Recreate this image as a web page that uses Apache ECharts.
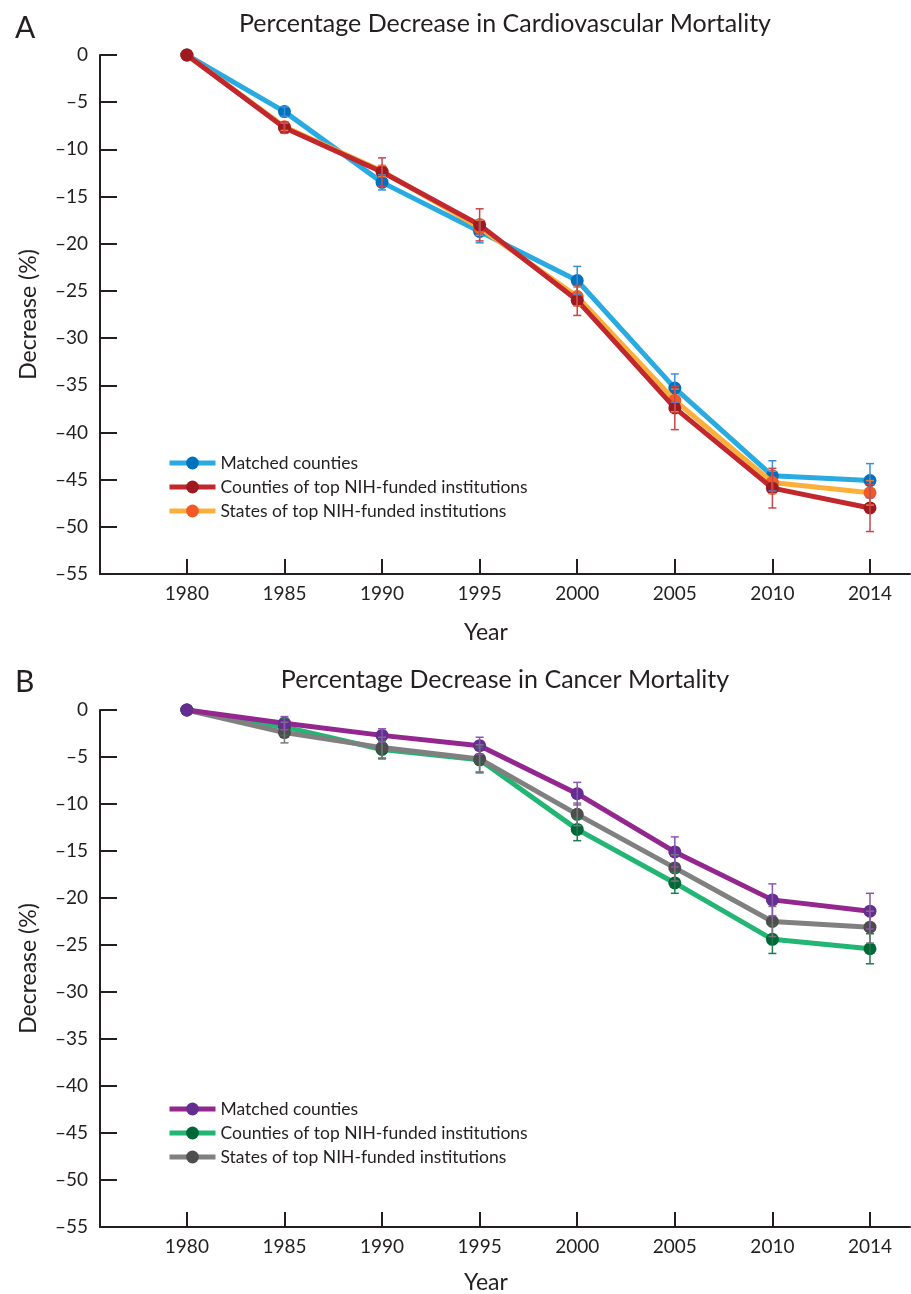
<!DOCTYPE html>
<html>
<head>
<meta charset="utf-8">
<title>Percentage Decrease in Mortality</title>
<script src="https://cdn.jsdelivr.net/npm/echarts@6/dist/echarts.min.js"></script>
<style>
  html, body { margin: 0; padding: 0; background: #fff; }
  #chart { width: 911px; height: 1294px; }
</style>
</head>
<body>
<div id="chart"></div>
<script>
// tick labels (x positions are category index 0..7)
const years = ['1980', '1985', '1990', '1995', '2000', '2005', '2010', '2014']
const yearIdx = years.map((y, i) => i)
const seriesNames = ['Matched counties', 'Counties of top NIH-funded institutions', 'States of top NIH-funded institutions']

// A: cardiovascular mortality, % decrease
const cvMatched = [0, -6.0, -13.5, -18.7, -23.9, -35.3, -44.6, -45.1]
const cvCounties = [0, -7.7, -12.4, -18.0, -26.0, -37.4, -45.9, -48.0]
const cvStates = [0, -7.6, -12.3, -18.3, -25.6, -36.6, -45.3, -46.4]
const cvMatchedErr = [0, 0.5, 0.8, 1.2, 1.5, 1.5, 1.6, 1.8]
const cvCountiesErr = [0, 0.6, 1.5, 1.7, 1.6, 2.3, 2.1, 2.5]
const cvStatesErr = [0, 0.4, 0.6, 0.8, 1.0, 1.2, 1.2, 1.3]

// B: cancer mortality, % decrease
const caMatched = [0, -1.4, -2.7, -3.8, -8.9, -15.1, -20.2, -21.4]
const caCounties = [0, -1.8, -4.2, -5.3, -12.7, -18.4, -24.4, -25.4]
const caStates = [0, -2.4, -4.0, -5.2, -11.1, -16.8, -22.5, -23.1]
const caMatchedErr = [0, 0.7, 0.7, 0.9, 1.2, 1.6, 1.7, 1.9]
const caCountiesErr = [0, 0.9, 1.0, 1.3, 1.2, 1.1, 1.5, 1.6]
const caStatesErr = [0, 1.1, 1.1, 1.5, 1.2, 1.4, 1.6, 1.7]

const FONT = 'Lato'
const INK = '#231f20'

let myChart = echarts.init(document.getElementById('chart'))

function lineSeries(name, values, lineColor, dotColor, gridIdx, z) {
  return {
    name: name,
    type: 'line',
    xAxisIndex: gridIdx,
    yAxisIndex: gridIdx,
    data: values.map((v, i) => [i, v]),
    symbol: 'circle',
    symbolSize: 13,
    clip: false,
    z: z,
    lineStyle: { color: lineColor, width: 5 },
    itemStyle: { color: dotColor },
    emphasis: { disabled: true }
  }
}

// ? error bars with caps, drawn through the axis scales
function errSeries(values, errs, color, gridIdx, z) {
  return {
    type: 'custom',
    xAxisIndex: gridIdx,
    yAxisIndex: gridIdx,
    data: values.map((v, i) => [i, v, errs[i]]),
    z: z,
    silent: true,
    renderItem: function (params, api) {
      let x = api.value(0)
      let v = api.value(1)
      let e = api.value(2)
      if (!e) return
      let top = api.coord([x, v + e])
      let bot = api.coord([x, v - e])
      let w = 4
      let style = { stroke: color, lineWidth: 1.5 }
      return {
        type: 'group',
        children: [
          { type: 'line', shape: { x1: top[0], y1: top[1], x2: bot[0], y2: bot[1] }, style: style },
          { type: 'line', shape: { x1: top[0] - w, y1: top[1], x2: top[0] + w, y2: top[1] }, style: style },
          { type: 'line', shape: { x1: bot[0] - w, y1: bot[1], x2: bot[0] + w, y2: bot[1] }, style: style }
        ]
      }
    }
  }
}

function xAxisFor(gridIdx) {
  return {
    type: 'value',
    gridIndex: gridIdx,
    min: -0.89,
    max: 7.41,
    splitLine: { show: false },
    axisLine: { onZero: false, lineStyle: { color: INK, width: 2 } },
    axisTick: { inside: true, length: 15, customValues: yearIdx, lineStyle: { color: INK, width: 2 } },
    axisLabel: {
      customValues: yearIdx,
      formatter: (v) => years[Math.round(v)],
      color: INK, fontFamily: FONT, fontSize: 19, margin: 10
    }
  }
}

function yAxisFor(gridIdx) {
  return {
    type: 'value',
    gridIndex: gridIdx,
    min: -55,
    max: 0,
    interval: 5,
    name: 'Decrease (%)',
    nameLocation: 'middle',
    nameGap: 60,
    nameTextStyle: { color: INK, fontFamily: FONT, fontSize: 23 },
    splitLine: { show: false },
    axisLine: { show: true, onZero: false, lineStyle: { color: INK, width: 2 } },
    axisTick: { show: true, inside: true, length: 17, lineStyle: { color: INK, width: 2 } },
    axisLabel: {
      formatter: (v) => String(v).replace('-', '\u2013'),
      color: INK, fontFamily: FONT, fontSize: 19, margin: 12
    }
  }
}

function legendFor(top, names) {
  return {
    orient: 'vertical',
    left: 162,
    top: top,
    data: names,
    itemWidth: 46,
    itemHeight: 16,
    itemGap: 6,
    selectedMode: false,
    lineStyle: { width: 5 },
    textStyle: { color: INK, fontFamily: FONT, fontSize: 17.5 }
  }
}

const titleText = (text, left, top, size, align) => ({
  text: text,
  left: left,
  top: top,
  textAlign: align,
  textStyle: { color: INK, fontFamily: FONT, fontSize: size, fontWeight: 'normal' }
})

myChart.setOption({
  animation: false,
  backgroundColor: '#fff',
  title: [
    titleText('A', 10, 8, 30, 'left'),
    titleText('Percentage Decrease in Cardiovascular Mortality', 500, 6, 25, 'center'),
    titleText('Year', 481, 616, 23, 'center'),
    titleText('B', 10, 662, 30, 'left'),
    titleText('Percentage Decrease in Cancer Mortality', 500, 662, 25, 'center'),
    titleText('Year', 481, 1266, 23, 'center')
  ],
  grid: [
    { left: 100, top: 55, width: 810, height: 519 },
    { left: 100, top: 710, width: 810, height: 517 }
  ],
  legend: [
    legendFor(449, seriesNames.map((n) => n)),
    legendFor(1095, seriesNames.map((n) => n + ' '))
  ],
  xAxis: [xAxisFor(0), xAxisFor(1)],
  yAxis: [yAxisFor(0), yAxisFor(1)],
  series: [
    // A (blue under, red on top)
    lineSeries(seriesNames[0], cvMatched, '#29abe2', '#0071bc', 0, 2),
    lineSeries(seriesNames[2], cvStates, '#fbb03b', '#f15a24', 0, 3),
    lineSeries(seriesNames[1], cvCounties, '#c1272d', '#9e1a20', 0, 4),
    errSeries(cvMatched, cvMatchedErr, '#3d8fd6', 0, 5),
    errSeries(cvStates, cvStatesErr, '#f07a3a', 0, 5),
    errSeries(cvCounties, cvCountiesErr, '#c8454a', 0, 5),
    // B
    lineSeries(seriesNames[1] + ' ', caCounties, '#22b573', '#006837', 1, 2),
    lineSeries(seriesNames[2] + ' ', caStates, '#808080', '#4d4d4d', 1, 3),
    lineSeries(seriesNames[0] + ' ', caMatched, '#93278f', '#662d91', 1, 4),
    errSeries(caCounties, caCountiesErr, '#1f7a4f', 1, 5),
    errSeries(caStates, caStatesErr, '#777777', 1, 5),
    errSeries(caMatched, caMatchedErr, '#8a55b0', 1, 5)
  ]
})

window.addEventListener('resize', () => {
  myChart.resize()
})
</script>
</body>
</html>
